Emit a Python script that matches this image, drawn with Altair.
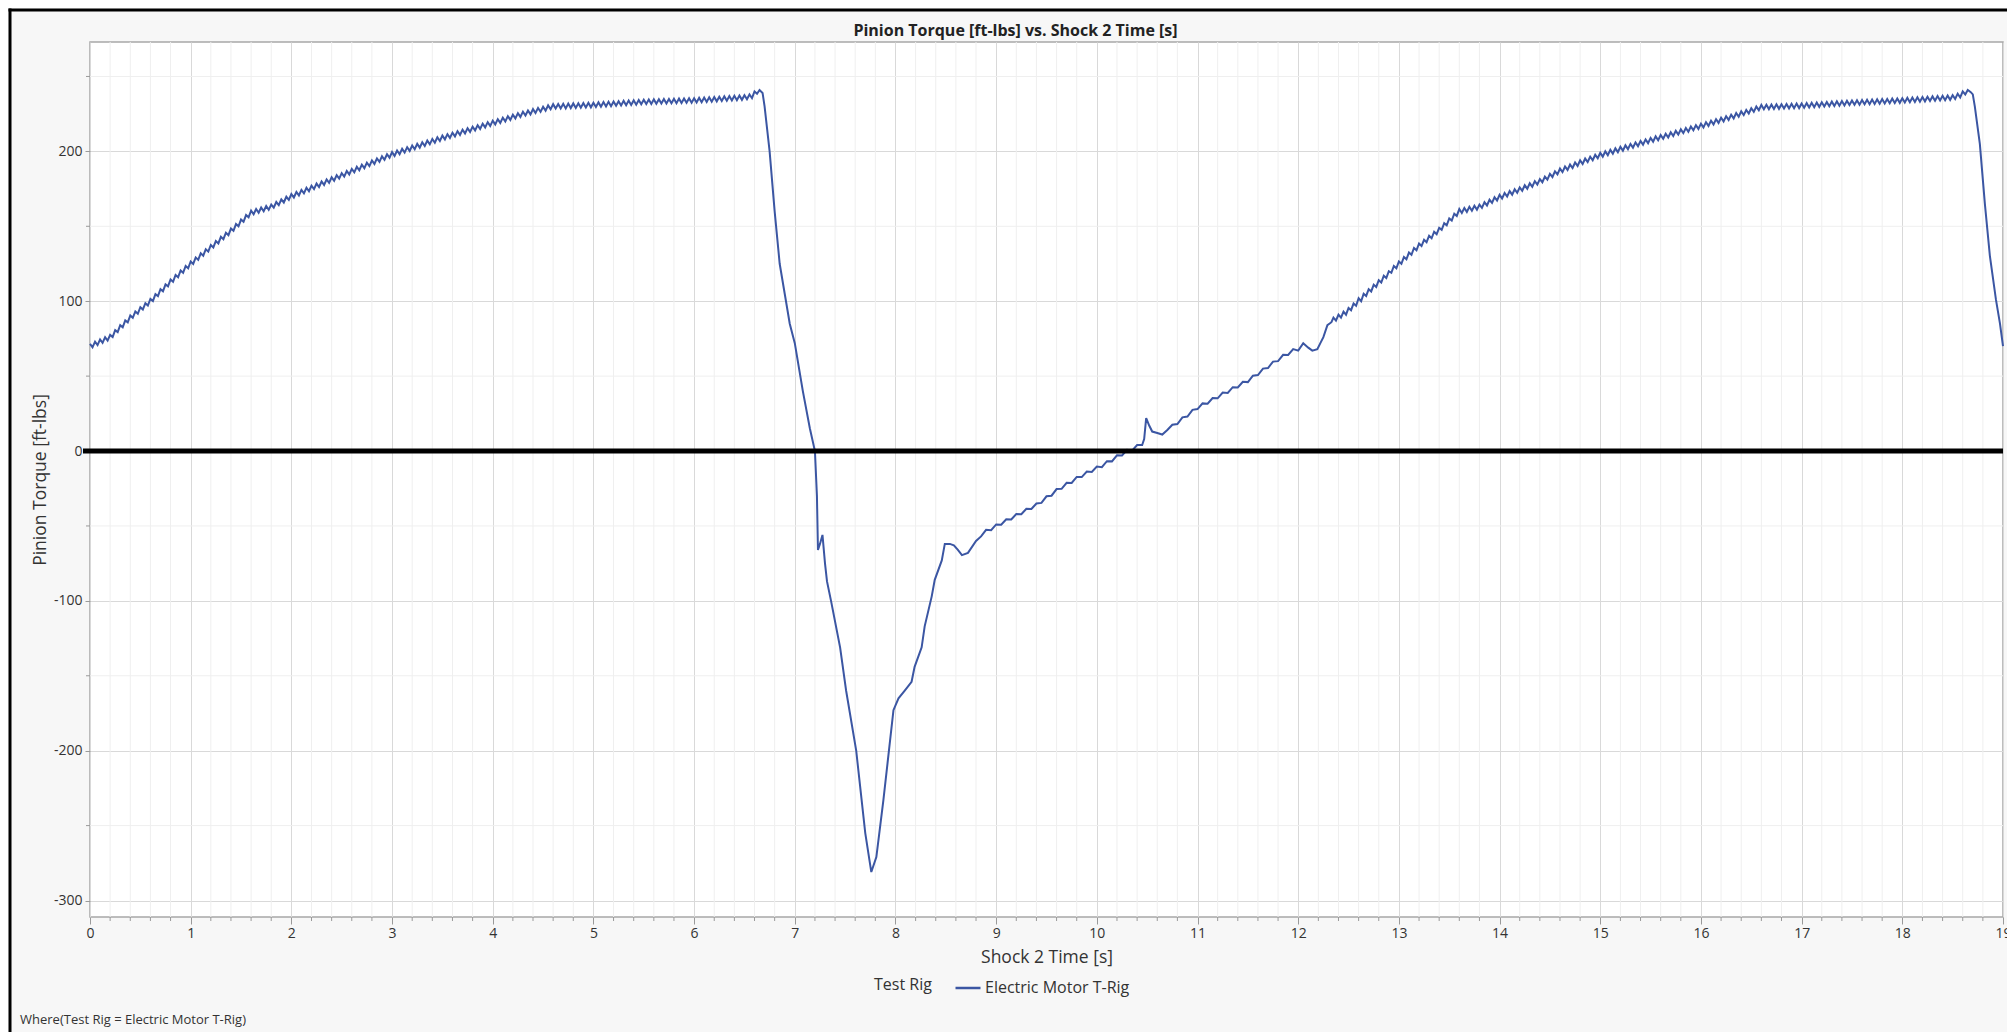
import altair as alt
import pandas as pd

TITLE = "Pinion Torque [ft-lbs] vs. Shock 2 Time [s]"
X_TITLE = "Shock 2 Time [s]"
Y_TITLE = "Pinion Torque [ft-lbs]"
LEGEND_TITLE = "Test Rig"
SERIES = "Electric Motor T-Rig"
FOOTER = "Where(Test Rig = Electric Motor T-Rig)"

X_DOMAIN = [0, 19]
Y_DOMAIN = [-311, 273]
X_LABELS = list(range(0, 20))
Y_LABELS = [-300, -200, -100, 0, 100, 200]
Y_MINOR = [-250, -150, -50, 50, 150, 250]
X_MINOR = [round(i * 0.2, 1) for i in range(0, 96) if i % 5 != 0]

# first ramp (start time, sample step, values)
rise_1 = [
    (0.0, 0.025, [71.5, 69.2, 73, 70.7, 74.5, 72.2, 76, 73.7]),
    (0.2, 0.025, [77.5, 76.1, 80.7, 79.4, 84, 82.6, 87.2, 85.9]),
    (0.4, 0.025, [90.5, 88.9, 93.2, 91.6, 96, 94.4, 98.7, 97.1]),
    (0.6, 0.025, [101.5, 100.1, 104.7, 103.4, 108, 106.6, 111.2, 109.9]),
    (0.8, 0.025, [114.5, 113, 117.5, 116, 120.5, 119, 123.5, 122]),
    (1.0, 0.025, [126.5, 124.9, 129.2, 127.6, 132, 130.4, 134.7, 133.1]),
    (1.2, 0.025, [137.5, 135.9, 140.2, 138.6, 143, 141.4, 145.7, 144.1]),
    (1.4, 0.025, [148.5, 147, 151.5, 150, 154.5, 153, 157.5, 156]),
    (1.6, 0.025, [160.5, 158, 161.5, 159, 162.5, 160, 163.5, 161]),
    (1.8, 0.025, [164.5, 162.4, 166.2, 164.1, 168, 165.9, 169.7, 167.6]),
    (2.0, 0.025, [171.5, 169.2, 172.9, 170.6, 174.3, 172, 175.7, 173.4, 177.1, 174.8,
                  178.5, 176.2, 179.9, 177.6, 181.3, 179, 182.7, 180.4, 184.1, 181.8]),
    (2.5, 0.025, [185.5, 183.2, 186.9, 184.6, 188.3, 186, 189.7, 187.4, 191.1, 188.8,
                  192.5, 190.2, 193.9, 191.6, 195.3, 193, 196.7, 194.4, 198.1, 195.8]),
    (3.0, 0.025, [199.5, 197, 200.6, 198.1, 201.7, 199.2, 202.8, 200.3, 203.9, 201.4,
                  205, 202.5, 206.1, 203.6, 207.2, 204.7, 208.3, 205.8, 209.4, 206.9]),
    (3.5, 0.025, [210.5, 208, 211.5, 209, 212.5, 210, 213.5, 211, 214.5, 212,
                  215.5, 213, 216.5, 214, 217.5, 215, 218.5, 216, 219.5, 217]),
    (4.0, 0.025, [220.5, 218, 221.5, 219, 222.5, 220, 223.5, 221, 224.5, 222, 225.5, 223]),
    (4.3, 0.025, [226.5, 223.9, 227.3, 224.7, 228.2, 225.6, 229, 226.4, 229.8, 227.2, 230.7, 228.1]),
    (4.6, 0.025, [231.5, 228.6, 231.6, 228.7, 231.7, 228.7, 231.9, 228.9,
                  232, 229, 232.1, 229.1, 232.2, 229.3, 232.4, 229.4]),
    (5.0, 0.025, [232.5, 229.6, 232.7, 229.8, 232.9, 230, 233.1, 230.2, 233.3, 230.4,
                  233.5, 230.6, 233.7, 230.8, 233.9, 231, 234.1, 231.2, 234.3, 231.4]),
    (5.5, 0.025, [234.5, 231.6, 234.6, 231.7, 234.7, 231.8, 234.8, 231.9, 234.9, 232,
                  235, 232.1, 235.1, 232.2, 235.2, 232.3, 235.3, 232.4, 235.4, 232.5]),
    (6.0, 0.025, [235.5, 232.6, 235.7, 232.8, 235.9, 233, 236.1, 233.2, 236.3, 233.4,
                  236.5, 233.6, 236.7, 233.8, 236.9, 234, 237.1, 234.2, 237.3, 234.4]),
    (6.5, 0.025, [237.5, 234.8, 238, 235.5, 240, 238.5, 241]),
]

drop_1_t = [6.68, 6.70, 6.75, 6.80, 6.85, 6.90, 6.95, 7.0, 7.08, 7.15, 7.2, 7.22, 7.23, 7.25,
            7.275, 7.30, 7.32, 7.36, 7.45, 7.51, 7.61, 7.70, 7.76, 7.81, 7.88, 7.98, 8.03,
            8.09, 8.16, 8.19, 8.26, 8.29, 8.36, 8.39, 8.46, 8.49, 8.54, 8.58, 8.62, 8.66,
            8.72, 8.80, 8.85]
drop_1_v = [239, 230, 200, 160, 125, 105, 85, 72, 40, 15, 0, -30, -66, -62,
            -56, -75, -87, -100, -131, -160, -200, -255, -281, -271, -233, -173, -165,
            -160, -154, -144, -131, -117, -97, -86, -73, -62, -62, -63, -66, -69.5,
            -68, -60, -57]

recover = [
    (8.9, 0.05, [-52.6, -52.8, -49, -49.2, -45.5, -45.7, -42, -42.2, -38.5, -38.7, -35, -34.6,
                 -30.2, -29.8, -25.4, -25.2, -21.2, -21.3, -17.3, -17.4, -13.7, -14, -10.4,
                 -10.8, -6.8, -6.9, -2.9, -3, 0.8, 0.2, 4, 4]),
]

spike_t = [10.47, 10.49, 10.52, 10.55, 10.6, 10.65, 10.7]
spike_v = [8, 22, 17, 13, 12, 11, 14]

climb = [
    (10.75, 0.05, [17.5, 18, 22.5, 23, 27.5, 28, 31.8, 31.6, 35.4, 35.2, 39, 38.8, 42.6,
                   42.4, 46.2, 46, 50.3, 50.7, 55, 55.4, 59.7, 60, 64.2, 64.1, 68]),
]

step_t = [12.0, 12.05, 12.1, 12.14, 12.19, 12.22, 12.25, 12.29, 12.33]
step_v = [67, 72, 69, 67, 68, 72, 76, 84, 86]

rise_2 = [
    (12.35, 0.025, [89, 87, 91, 89, 93, 91]),
    (12.5, 0.025, [95.5, 94, 98.5, 97, 102, 100]),
    (12.65, 0.025, [105, 103.5, 108, 106.5, 111, 109.5]),
    (12.8, 0.025, [114, 112.5, 117, 115.5, 120, 119, 123.5, 122]),
    (13.0, 0.025, [126.5, 125, 129.5, 128, 132.5, 131, 135.5, 134]),
    (13.2, 0.025, [138.5, 136.8, 141, 139.4, 143.7, 142, 146.4, 144.7]),
    (13.4, 0.025, [149, 147.6, 152.1, 150.7, 155.2, 153.8, 158.4, 156.9]),
    (13.6, 0.025, [161.5, 158.9, 162.2, 159.6, 163, 160.4, 163.7, 161.1]),
    (13.8, 0.025, [164.5, 162.3, 166.1, 163.9, 167.7, 165.6, 169.4, 167.2]),
    (14.0, 0.025, [171, 168.6, 172.2, 169.9, 173.5, 171.1, 174.7, 172.4]),
    (14.2, 0.025, [176, 173.7, 177.4, 175.1, 178.7, 176.4, 180.1, 177.8]),
    (14.4, 0.025, [181.5, 179.4, 183.2, 181.1, 185, 182.9, 186.7, 184.6]),
    (14.6, 0.025, [188.5, 186.2, 189.9, 187.6, 191.2, 188.9, 192.6, 190.3]),
    (14.8, 0.025, [194, 191.6, 195.2, 192.9, 196.5, 194.1, 197.7, 195.4]),
    (15.0, 0.025, [199, 196.5, 200, 197.5, 201, 198.5, 202, 199.5, 203, 200.5,
                   204, 201.5, 205, 202.5, 206, 203.5, 207, 204.5, 208, 205.5]),
    (15.5, 0.025, [209, 206.5, 210, 207.4, 210.9, 208.4, 211.8, 209.3, 212.8, 210.3,
                   213.7, 211.2, 214.7, 212.2, 215.6, 213.1, 216.6, 214.1, 217.5, 215]),
    (16.0, 0.025, [218.5, 216, 219.5, 217, 220.5, 218, 221.5, 219, 222.5, 220, 223.5, 221]),
    (16.3, 0.025, [224.5, 222, 225.6, 223.1, 226.7, 224.2, 227.7, 225.3, 228.8, 226.4, 229.9, 227.5]),
    (16.6, 0.025, [231, 228.1, 231.1, 228.2, 231.2, 228.3, 231.4, 228.4,
                   231.5, 228.6, 231.6, 228.7, 231.7, 228.8, 231.9, 228.9]),
    (17.0, 0.025, [232, 229.1, 232.2, 229.3, 232.4, 229.5, 232.6, 229.7, 232.8, 229.9,
                   233, 230.1, 233.2, 230.3, 233.4, 230.5, 233.6, 230.7, 233.8, 230.9]),
    (17.5, 0.025, [234, 231.1, 234.1, 231.2, 234.3, 231.4, 234.4, 231.5, 234.6, 231.7,
                   234.7, 231.8, 234.9, 232, 235, 232.1, 235.2, 232.3, 235.3, 232.4]),
    (18.0, 0.025, [235.5, 232.6, 235.7, 232.8, 235.9, 233, 236.1, 233.2, 236.3, 233.4,
                   236.5, 233.6, 236.7, 233.8, 236.9, 234, 237.1, 234.2, 237.3, 234.4]),
    (18.5, 0.025, [237.5, 235, 238.5, 236, 240, 238, 241]),
]

drop_2_t = [18.68, 18.70, 18.72, 18.77, 18.82, 18.87, 18.93, 18.97, 19.0]
drop_2_v = [239.5, 238, 230, 205, 165, 130, 101, 85, 70]

rows = []


def add_chunks(chunks):
    for start, step, vals in chunks:
        for i, v in enumerate(vals):
            rows.append((round(start + i * step, 4), v))


def add_pairs(ts, vs):
    for t, v in zip(ts, vs):
        rows.append((t, v))


add_chunks(rise_1)
add_pairs(drop_1_t, drop_1_v)
add_chunks(recover)
add_pairs(spike_t, spike_v)
add_chunks(climb)
add_pairs(step_t, step_v)
add_chunks(rise_2)
add_pairs(drop_2_t, drop_2_v)

df = pd.DataFrame(rows, columns=["t", "v"])
df["order"] = range(len(df))
df["rig"] = SERIES

W, H = 1913, 875
FONT = "Open Sans"
LINE_COLOR = "#3b56a3"
TXT = "#333333"

xs = alt.Scale(domain=X_DOMAIN, nice=False, zero=False)
ys = alt.Scale(domain=Y_DOMAIN, nice=False, zero=False)

X_AXIS = alt.Axis(
    title=X_TITLE,
    values=X_LABELS,
    labelExpr="'' + datum.value",
    grid=True,
    gridColor="#d9d9d9",
    gridWidth=1,
    domain=False,
    ticks=True,
    tickSize=7,
    tickColor="#9a9a9a",
    labelFontSize=14,
    labelColor=TXT,
    labelPadding=2,
    labelFlush=False,
    labelOverlap=False,
    labelBound=False,
    titleFontSize=17.5,
    titleFontWeight="normal",
    titleColor=TXT,
    titleX=W / 2,
    titleY=40,
    titleBaseline="middle",
)
Y_AXIS = alt.Axis(
    title=Y_TITLE,
    values=Y_LABELS,
    labelExpr="'' + datum.value",
    grid=True,
    gridColor="#d9d9d9",
    gridWidth=1,
    domain=False,
    ticks=True,
    tickSize=5,
    tickColor="#9a9a9a",
    labelFontSize=14,
    labelColor=TXT,
    labelPadding=3,
    labelOverlap=False,
    titleFontSize=17.5,
    titleFontWeight="normal",
    titleColor=TXT,
    titleX=-50,
    titleY=H / 2,
    titleBaseline="middle",
    titleAlign="center",
)

one = pd.DataFrame({"a": [0]})

minor_x_grid = alt.Chart(pd.DataFrame({"g": X_MINOR})).mark_rule(
    color="#efefef", strokeWidth=1
).encode(x=alt.X("g:Q", scale=xs, axis=X_AXIS))

minor_y_grid = alt.Chart(pd.DataFrame({"g": Y_MINOR})).mark_rule(
    color="#efefef", strokeWidth=1
).encode(y=alt.Y("g:Q", scale=ys, axis=Y_AXIS))

minor_x_ticks = alt.Chart(pd.DataFrame({"g": X_MINOR})).mark_rule(
    color="#9a9a9a", strokeWidth=1
).encode(x=alt.X("g:Q", scale=xs, axis=X_AXIS), y=alt.value(H), y2=alt.value(H + 4))

minor_y_ticks = alt.Chart(pd.DataFrame({"g": Y_MINOR})).mark_rule(
    color="#9a9a9a", strokeWidth=1
).encode(y=alt.Y("g:Q", scale=ys, axis=Y_AXIS), x=alt.value(-4), x2=alt.value(0))

line = alt.Chart(df).mark_line(strokeWidth=2, interpolate="linear").encode(
    x=alt.X("t:Q", scale=xs, axis=X_AXIS),
    y=alt.Y("v:Q", scale=ys, axis=Y_AXIS),
    order="order:Q",
    color=alt.Color(
        "rig:N",
        scale=alt.Scale(domain=[SERIES], range=[LINE_COLOR]),
        legend=alt.Legend(
            title=LEGEND_TITLE,
            orient="none",
            legendX=784,
            legendY=932,
            titleOrient="left",
            titleFontSize=16,
            titleFontWeight="normal",
            titleColor=TXT,
            titlePadding=22,
            labelFontSize=16,
            labelColor=TXT,
            labelOffset=3,
            symbolType="stroke",
            symbolSize=625,
            symbolStrokeWidth=2.5,
            padding=0,
        ),
    ),
)

zero_line = alt.Chart(pd.DataFrame({"z": [0]})).mark_rule(
    color="black", strokeWidth=5
).encode(y=alt.Y("z:Q", scale=ys, axis=Y_AXIS), x=alt.value(-7), x2=alt.value(W))

title_text = alt.Chart(pd.DataFrame({"s": [TITLE]})).mark_text(
    align="center", baseline="middle", fontSize=16, fontWeight="bold", font=FONT, color="#222222"
).encode(x=alt.value(W / 2 - 31), y=alt.value(-11), text="s:N")

footer = alt.Chart(pd.DataFrame({"s": [FOOTER]})).mark_text(
    align="left", baseline="middle", fontSize=13, font=FONT, color=TXT
).encode(x=alt.value(-70), y=alt.value(978), text="s:N")

white_left = alt.Chart(one).mark_rect(color="white").encode(
    x=alt.value(-90), x2=alt.value(-81.5), y=alt.value(-42), y2=alt.value(H + 115)
)
white_top = alt.Chart(one).mark_rect(color="white").encode(
    x=alt.value(-90), x2=alt.value(W + 4), y=alt.value(-42), y2=alt.value(-33.5)
)
frame_top = alt.Chart(one).mark_rule(color="black", strokeWidth=3).encode(
    x=alt.value(-81.5), x2=alt.value(W + 4), y=alt.value(-32)
)
frame_left = alt.Chart(one).mark_rule(color="black", strokeWidth=3).encode(
    x=alt.value(-80), y=alt.value(-33.5), y2=alt.value(H + 115)
)

chart = alt.layer(
    minor_x_grid,
    minor_y_grid,
    minor_x_ticks,
    minor_y_ticks,
    line,
    zero_line,
    title_text,
    white_left,
    white_top,
    frame_top,
    frame_left,
    footer,
).properties(
    width=W,
    height=H,
    autosize=alt.AutoSizeParams(type="none"),
    padding={"left": 90, "top": 42, "right": 4, "bottom": 115},
    background="#f7f7f7",
).configure(
    font=FONT
).configure_view(
    stroke="#a8a8a8", strokeWidth=1.5, fill="white"
).configure_axis(
    labelFont=FONT, titleFont=FONT
).configure_legend(
    labelFont=FONT, titleFont=FONT
)

chart.save("out.html", embed_options={"renderer": "svg", "actions": False})
